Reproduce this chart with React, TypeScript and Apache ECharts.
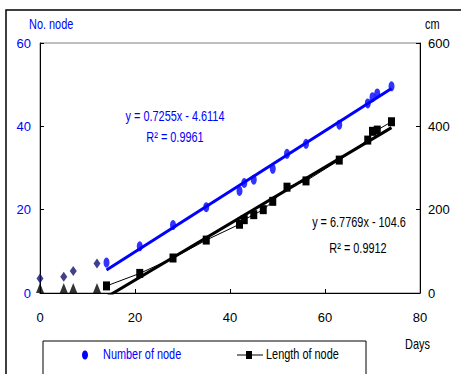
import React, { useEffect, useRef } from "react";
import * as echarts from "echarts";

// Days after planting
const nodeDays = [14, 21, 28, 35, 42, 43, 45, 49, 52, 56, 63, 69, 70, 71, 74];
const nodeCounts = [7.3, 11.2, 16.3, 20.6, 24.5, 26.4, 27.2, 29.8, 33.4, 35.8, 40.4, 45.5, 47.0, 47.9, 49.6];

const lengthDays = [14, 21, 28, 35, 42, 43, 45, 47, 49, 52, 56, 63, 69, 70, 71, 74];
const lengthValues = [17, 47, 84, 127, 165, 176, 188, 200, 220, 254, 269, 319, 367, 388, 391, 411];

const earlyDays = [0, 5, 7, 12];
const earlyNodeCounts = [3.5, 3.9, 5.3, 7.1];
const earlyLengths = [0, 0, 0, 0];

// Trendline coefficients (as shown on chart)
const nodeSlope = 0.7255;
const nodeIntercept = -4.6114;
const lengthSlope = 6.7769;
const lengthIntercept = -104.6;
const trendStart = 14;
const trendEnd = 74;

const xTicks = [0, 80, 20];
const leftTicks = [0, 60, 20];
const rightTicks = [0, 600, 200];

const FONT = "'Liberation Sans', Arial, sans-serif";
const BLUE = "#0000ff";
const SX = 0.78;

export default function App() {
  const ref = useRef<HTMLDivElement>(null);
  useEffect(() => {
    if (!ref.current) return;
    const chart = echarts.init(ref.current, null, { renderer: "svg" });
    const pair = (xs: number[], ys: number[]) => xs.map((x, i) => [x, ys[i]]);
    const txt = (text: string, x: number, y: number, fill: string, align = "left", size = 14) => ({
      type: "text",
      x,
      y,
      scaleX: SX,
      style: { text, fill, font: `${size}px ${FONT}`, align, verticalAlign: "middle" },
    });
    const option: any = {
      animation: false,
      backgroundColor: "#ffffff",
      textStyle: { fontFamily: FONT },
      grid: {
        left: 40,
        top: 43,
        right: 41,
        bottom: 81,
        show: true,
        borderColor: "#808080",
        borderWidth: 1,
        backgroundColor: "transparent",
      },
      xAxis: {
        type: "value",
        min: xTicks[0],
        max: xTicks[1],
        interval: xTicks[2],
        axisLine: { show: true, lineStyle: { color: "#000", width: 1 } },
        axisTick: { show: true, inside: true, length: 4, lineStyle: { color: "#000" } },
        axisLabel: { color: "#000", fontSize: 13, margin: 18, fontFamily: FONT },
        splitLine: { show: false },
      },
      yAxis: [
        {
          type: "value",
          min: leftTicks[0],
          max: leftTicks[1],
          interval: leftTicks[2],
          position: "left",
          axisLine: { show: true, lineStyle: { color: "#000", width: 1 } },
          axisTick: { show: true, inside: true, length: 4, lineStyle: { color: "#000" } },
          axisLabel: { color: BLUE, fontSize: 13, margin: 9, fontFamily: FONT },
          splitLine: { show: false },
        },
        {
          type: "value",
          min: rightTicks[0],
          max: rightTicks[1],
          interval: rightTicks[2],
          position: "right",
          axisLine: { show: true, lineStyle: { color: "#000", width: 1 } },
          axisTick: { show: true, inside: true, length: 4, lineStyle: { color: "#000" } },
          axisLabel: { color: "#000", fontSize: 13, margin: 8, fontFamily: FONT },
          splitLine: { show: false },
        },
      ],
      series: [
        {
          name: "Number of node",
          type: "scatter",
          yAxisIndex: 0,
          symbol: "circle",
          symbolSize: [6, 10],
          itemStyle: { color: BLUE },
          data: pair(nodeDays, nodeCounts),
          z: 5,
        },
        {
          name: "Node trend",
          type: "line",
          yAxisIndex: 0,
          symbol: "none",
          lineStyle: { color: BLUE, width: 3 },
          data: [
            [trendStart, nodeSlope * trendStart + nodeIntercept],
            [trendEnd, nodeSlope * trendEnd + nodeIntercept],
          ],
          z: 4,
        },
        {
          name: "Length of node",
          type: "line",
          yAxisIndex: 1,
          symbol: "rect",
          symbolSize: [7, 9],
          itemStyle: { color: "#000" },
          lineStyle: { color: "#000", width: 1 },
          data: pair(lengthDays, lengthValues),
          z: 5,
        },
        {
          name: "Length trend",
          type: "line",
          yAxisIndex: 1,
          symbol: "none",
          clip: true,
          lineStyle: { color: "#000", width: 3 },
          data: [
            [trendStart, lengthSlope * trendStart + lengthIntercept],
            [trendEnd, lengthSlope * trendEnd + lengthIntercept],
          ],
          z: 4,
        },
        {
          name: "Early nodes",
          type: "scatter",
          yAxisIndex: 0,
          symbol: "diamond",
          symbolSize: [7, 10],
          itemStyle: { color: "#10106e" },
          data: pair(earlyDays, earlyNodeCounts),
          z: 5,
        },
        {
          name: "Early length",
          type: "scatter",
          yAxisIndex: 1,
          symbol: "triangle",
          symbolSize: [8, 10],
          symbolOffset: [0, -5],
          itemStyle: { color: "#000" },
          data: pair(earlyDays, earlyLengths),
          z: 5,
        },
      ],
      graphic: [
        {
          type: "rect",
          shape: { x: 6, y: 10, width: 500, height: 420 },
          style: { fill: "none", stroke: "#000", lineWidth: 1.5 },
          silent: true,
        },
        txt("No. node", 29, 25, BLUE),
        txt("cm", 425, 25, "#000"),
        txt("Days", 405, 345, "#000"),
        txt("y = 0.7255x - 4.6114", 175, 117, BLUE, "center"),
        txt("R² = 0.9961", 175, 138, BLUE, "center"),
        txt("y = 6.7769x - 104.6", 359, 223, "#000", "center"),
        txt("R² = 0.9912", 358, 249, "#000", "center"),
        {
          type: "rect",
          shape: { x: 43, y: 341, width: 323, height: 60 },
          style: { fill: "#fff", stroke: "#000", lineWidth: 1 },
        },
        {
          type: "ellipse",
          shape: { cx: 85, cy: 355, rx: 3, ry: 4.5 },
          style: { fill: BLUE },
        },
        txt("Number of node", 103, 355, BLUE),
        {
          type: "line",
          shape: { x1: 237, y1: 355, x2: 263, y2: 355 },
          style: { stroke: "#000", lineWidth: 1 },
        },
        {
          type: "rect",
          shape: { x: 246, y: 351, width: 6, height: 8 },
          style: { fill: "#000" },
        },
        txt("Length of node", 266, 355, "#000"),
      ],
    };
    chart.setOption(option);
    return () => chart.dispose();
  }, []);
  return (
    <div
      ref={ref}
      style={{ position: "fixed", left: 0, top: 0, width: 461, height: 374 }}
    />
  );
}
